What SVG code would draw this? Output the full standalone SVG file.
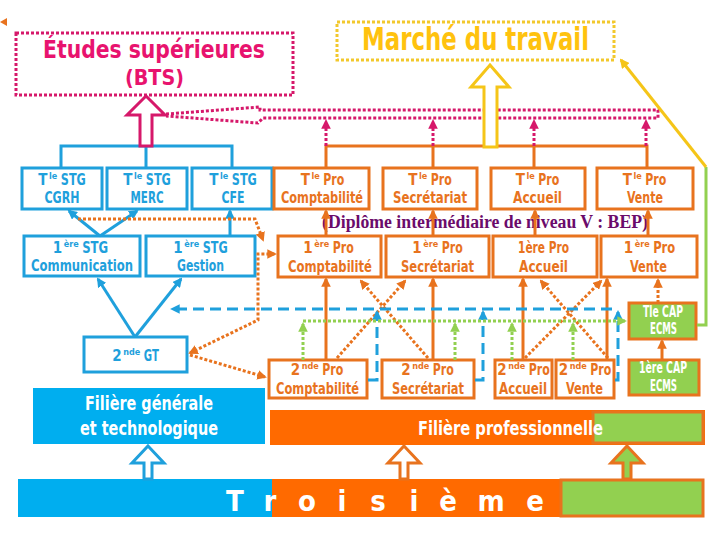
<svg xmlns="http://www.w3.org/2000/svg" width="720" height="540" viewBox="0 0 720 540">
<style>
.cn{font-family:"Liberation Sans Narrow","DejaVu Sans Condensed","Roboto Condensed",sans-serif;font-weight:bold;text-anchor:middle}
.cs{font-family:"Liberation Sans Narrow","DejaVu Sans Condensed","Roboto Condensed",sans-serif;font-weight:bold;text-anchor:start;font-size:15px}
.lp{font-size:16px}
.sp{font-size:9px}
.bt{fill:#1fa0dc;font-size:16px}
.ot{fill:#e8731e;font-size:16px}
.wt{fill:#ffffff}
.bbox{fill:#ffffff;stroke:#1fa0dc;stroke-width:3}
.obox{fill:#ffffff;stroke:#e8731e;stroke-width:3}
.gbox{fill:#92d050;stroke:#e8731e;stroke-width:3}
.bl{fill:none;stroke:#1fa0dc;stroke-width:3}
.ol{fill:none;stroke:#e8731e;stroke-width:3}
.od{fill:none;stroke:#e8731e;stroke-width:3;stroke-dasharray:3 2}
.pd{fill:none;stroke:#d6186a;stroke-width:3;stroke-dasharray:3 2}
.gd{fill:none;stroke:#92d050;stroke-width:3;stroke-dasharray:3 2}
.bd{fill:none;stroke:#1fa0dc;stroke-width:3;stroke-dasharray:11 6}
</style>
<defs>
<marker id="mB" viewBox="0 0 10 10" refX="8" refY="5" markerWidth="3.2" markerHeight="3.2" orient="auto-start-reverse"><path d="M0,0L10,5L0,10z" fill="#1fa0dc"/></marker>
<marker id="mO" viewBox="0 0 10 10" refX="8" refY="5" markerWidth="3.2" markerHeight="3.2" orient="auto-start-reverse"><path d="M0,0L10,5L0,10z" fill="#e8731e"/></marker>
<marker id="mP" viewBox="0 0 10 10" refX="8" refY="5" markerWidth="3.2" markerHeight="3.2" orient="auto-start-reverse"><path d="M0,0L10,5L0,10z" fill="#d6186a"/></marker>
<marker id="mG" viewBox="0 0 10 10" refX="8" refY="5" markerWidth="3.2" markerHeight="3.2" orient="auto-start-reverse"><path d="M0,0L10,5L0,10z" fill="#92d050"/></marker>
<marker id="mY" viewBox="0 0 10 10" refX="8" refY="5" markerWidth="3.2" markerHeight="3.2" orient="auto-start-reverse"><path d="M0,0L10,5L0,10z" fill="#f5c518"/></marker>
</defs>
<rect width="720" height="540" fill="#ffffff"/>

<polygon points="0,22 7,18 7,26" fill="#e8731e"/>

<g id="etudes">
<rect x="16" y="33" width="277" height="62" fill="none" stroke="#d6186a" stroke-width="3" stroke-dasharray="3 2"/>
<text class="cn" x="154" y="58" font-size="25" fill="#e8136e" textLength="222" lengthAdjust="spacingAndGlyphs">Études supérieures</text>
<text class="cn" x="154.5" y="85" font-size="22" fill="#e8136e" textLength="59" lengthAdjust="spacingAndGlyphs">(BTS)</text>
</g>
<g id="marche">
<rect x="337" y="22" width="277" height="38" fill="none" stroke="#f2c82c" stroke-width="3" stroke-dasharray="3 2"/>
<text class="cn" x="475.5" y="50" font-size="32" fill="#ffc20e" textLength="227" lengthAdjust="spacingAndGlyphs">Marché du travail</text>
</g>

<g id="tle-stg-cgrh" fill="#1fa0dc"><rect class="bbox" x="22" y="168" width="80" height="41"/>
<text class="cs" x="38.3" y="185">T</text><text class="cs sp" x="49" y="179">le</text>
<text class="cs lp" x="60.8" y="185" textLength="25" lengthAdjust="spacingAndGlyphs">STG</text>
<text class="cn bt" x="62" y="203" textLength="35" lengthAdjust="spacingAndGlyphs">CGRH</text></g>
<g id="tle-stg-merc" fill="#1fa0dc"><rect class="bbox" x="107" y="168" width="80" height="41"/>
<text class="cs" x="123.3" y="185">T</text><text class="cs sp" x="134" y="179">le</text>
<text class="cs lp" x="145.8" y="185" textLength="25" lengthAdjust="spacingAndGlyphs">STG</text>
<text class="cn bt" x="147" y="203" textLength="33" lengthAdjust="spacingAndGlyphs">MERC</text></g>
<g id="tle-stg-cfe" fill="#1fa0dc"><rect class="bbox" x="192" y="168" width="80" height="41"/>
<text class="cs" x="209.3" y="185">T</text><text class="cs sp" x="220" y="179">le</text>
<text class="cs lp" x="231.8" y="185" textLength="25" lengthAdjust="spacingAndGlyphs">STG</text>
<text class="cn bt" x="233" y="203" textLength="23" lengthAdjust="spacingAndGlyphs">CFE</text></g>

<g id="1ere-stg-comm" fill="#1fa0dc"><rect class="bbox" x="24" y="236" width="116" height="40"/>
<text class="cs" x="52.8" y="253">1</text><text class="cs sp" x="63.7" y="247">ère</text>
<text class="cs lp" x="82.2" y="253" textLength="26" lengthAdjust="spacingAndGlyphs">STG</text>
<text class="cn bt" x="82" y="271" textLength="102" lengthAdjust="spacingAndGlyphs">Communication</text></g>
<g id="1ere-stg-gestion" fill="#1fa0dc"><rect class="bbox" x="146" y="236" width="109" height="40"/>
<text class="cs" x="173.3" y="253">1</text><text class="cs sp" x="184.2" y="247">ère</text>
<text class="cs lp" x="202.7" y="253" textLength="25" lengthAdjust="spacingAndGlyphs">STG</text>
<text class="cn bt" x="200.5" y="271" textLength="47" lengthAdjust="spacingAndGlyphs">Gestion</text></g>

<g id="2nde-gt" fill="#1fa0dc"><rect class="bbox" x="84" y="337" width="103" height="35"/>
<text class="cs" x="112.3" y="361">2</text><text class="cs sp" x="123.2" y="355">nde</text>
<text class="cs lp" x="143.8" y="361" textLength="15" lengthAdjust="spacingAndGlyphs">GT</text></g>

<g id="filiere-gt"><rect x="33" y="388" width="232" height="56" fill="#00aeef"/>
<text class="cn wt" x="149" y="410" font-size="20" textLength="128" lengthAdjust="spacingAndGlyphs">Filière générale</text>
<text class="cn wt" x="149" y="435" font-size="20" textLength="138" lengthAdjust="spacingAndGlyphs">et technologique</text></g>

<g id="tle-pro-compta" fill="#e8731e"><rect class="obox" x="274" y="168" width="95" height="41"/>
<text class="cs" x="300.8" y="185">T</text><text class="cs sp" x="311.5" y="179">le</text>
<text class="cs lp" x="323.3" y="185" textLength="21" lengthAdjust="spacingAndGlyphs">Pro</text>
<text class="cn ot" x="322" y="203" textLength="82" lengthAdjust="spacingAndGlyphs">Comptabilité</text></g>
<g id="tle-pro-secr" fill="#e8731e"><rect class="obox" x="383" y="168" width="94" height="41"/>
<text class="cs" x="408.3" y="185">T</text><text class="cs sp" x="419" y="179">le</text>
<text class="cs lp" x="430.8" y="185" textLength="21" lengthAdjust="spacingAndGlyphs">Pro</text>
<text class="cn ot" x="430" y="203" textLength="74" lengthAdjust="spacingAndGlyphs">Secrétariat</text></g>
<g id="tle-pro-accueil" fill="#e8731e"><rect class="obox" x="491" y="168" width="94" height="41"/>
<text class="cs" x="515.8" y="185">T</text><text class="cs sp" x="526.5" y="179">le</text>
<text class="cs lp" x="538.3" y="185" textLength="21" lengthAdjust="spacingAndGlyphs">Pro</text>
<text class="cn ot" x="537.5" y="203" textLength="49" lengthAdjust="spacingAndGlyphs">Accueil</text></g>
<g id="tle-pro-vente" fill="#e8731e"><rect class="obox" x="597" y="168" width="96" height="41"/>
<text class="cs" x="622.8" y="185">T</text><text class="cs sp" x="633.5" y="179">le</text>
<text class="cs lp" x="645.3" y="185" textLength="21" lengthAdjust="spacingAndGlyphs">Pro</text>
<text class="cn ot" x="645" y="203" textLength="36" lengthAdjust="spacingAndGlyphs">Vente</text></g>

<text id="bep" x="485" y="228" font-family="'Liberation Serif','Times New Roman',serif" font-weight="bold" font-size="18" fill="#6b0b6b" text-anchor="middle" textLength="326" lengthAdjust="spacingAndGlyphs">(Diplôme intermédiaire de niveau V : BEP)</text>

<g id="1ere-pro-compta" fill="#e8731e"><rect class="obox" x="278" y="236" width="103" height="41"/>
<text class="cs" x="303.3" y="253">1</text><text class="cs sp" x="314.2" y="247">ère</text>
<text class="cs lp" x="332.7" y="253" textLength="21" lengthAdjust="spacingAndGlyphs">Pro</text>
<text class="cn ot" x="330" y="272" textLength="84" lengthAdjust="spacingAndGlyphs">Comptabilité</text></g>
<g id="1ere-pro-secr" fill="#e8731e"><rect class="obox" x="386" y="236" width="103" height="41"/>
<text class="cs" x="412.3" y="253">1</text><text class="cs sp" x="423.2" y="247">ère</text>
<text class="cs lp" x="441.7" y="253" textLength="21" lengthAdjust="spacingAndGlyphs">Pro</text>
<text class="cn ot" x="437.5" y="272" textLength="73" lengthAdjust="spacingAndGlyphs">Secrétariat</text></g>
<g id="1ere-pro-accueil"><rect class="obox" x="493" y="236" width="104" height="41"/>
<text class="cn ot" x="543.5" y="253" textLength="51" lengthAdjust="spacingAndGlyphs">1ère Pro</text>
<text class="cn ot" x="543.5" y="272" textLength="49" lengthAdjust="spacingAndGlyphs">Accueil</text></g>
<g id="1ere-pro-vente" fill="#e8731e"><rect class="obox" x="601" y="236" width="96" height="41"/>
<text class="cs" x="623.8" y="253">1</text><text class="cs sp" x="634.7" y="247">ère</text>
<text class="cs lp" x="653.2" y="253" textLength="22" lengthAdjust="spacingAndGlyphs">Pro</text>
<text class="cn ot" x="648.5" y="272" textLength="37" lengthAdjust="spacingAndGlyphs">Vente</text></g>

<g id="2nde-pro-compta" fill="#e8731e"><rect class="obox" x="269" y="360" width="98" height="38"/>
<text class="cs" x="290.8" y="375">2</text><text class="cs sp" x="301.7" y="369">nde</text>
<text class="cs lp" x="322.3" y="375" textLength="21" lengthAdjust="spacingAndGlyphs">Pro</text>
<text class="cn ot" x="317.5" y="394" textLength="83" lengthAdjust="spacingAndGlyphs">Comptabilité</text></g>
<g id="2nde-pro-secr" fill="#e8731e"><rect class="obox" x="382" y="360" width="92" height="38"/>
<text class="cs" x="401.3" y="375">2</text><text class="cs sp" x="412.2" y="369">nde</text>
<text class="cs lp" x="432.8" y="375" textLength="21" lengthAdjust="spacingAndGlyphs">Pro</text>
<text class="cn ot" x="428" y="394" textLength="72" lengthAdjust="spacingAndGlyphs">Secrétariat</text></g>
<g id="2nde-pro-accueil" fill="#e8731e"><rect class="obox" x="495" y="360" width="57" height="38"/>
<text class="cs" x="497.3" y="375">2</text><text class="cs sp" x="508.2" y="369">nde</text>
<text class="cs lp" x="528.8" y="375" textLength="21" lengthAdjust="spacingAndGlyphs">Pro</text>
<text class="cn ot" x="523" y="394" textLength="48" lengthAdjust="spacingAndGlyphs">Accueil</text></g>
<g id="2nde-pro-vente" fill="#e8731e"><rect class="obox" x="556" y="360" width="58" height="38"/>
<text class="cs" x="558.8" y="375">2</text><text class="cs sp" x="569.7" y="369">nde</text>
<text class="cs lp" x="590.3" y="375" textLength="21" lengthAdjust="spacingAndGlyphs">Pro</text>
<text class="cn ot" x="584.5" y="394" textLength="37" lengthAdjust="spacingAndGlyphs">Vente</text></g>

<g id="tle-cap"><rect class="gbox" x="629" y="303" width="67" height="36"/>
<text class="cn wt" x="663" y="317" font-size="15" textLength="40" lengthAdjust="spacingAndGlyphs">Tle CAP</text>
<text class="cn wt" x="663.5" y="334" font-size="15" textLength="27" lengthAdjust="spacingAndGlyphs">ECMS</text></g>
<g id="1ere-cap"><rect class="gbox" x="629" y="360" width="70" height="35"/>
<text class="cn wt" x="663" y="373" font-size="15" textLength="48" lengthAdjust="spacingAndGlyphs">1ère CAP</text>
<text class="cn wt" x="663.5" y="391" font-size="15" textLength="27" lengthAdjust="spacingAndGlyphs">ECMS</text></g>

<g id="filiere-pro">
<rect x="270" y="410" width="435" height="35" fill="#ff6a00"/>
<rect x="593" y="412" width="110" height="31" fill="#92d050" stroke="#e8731e" stroke-width="3"/>
<text class="cn wt" x="510.5" y="435" font-size="20" textLength="185" lengthAdjust="spacingAndGlyphs">Filière professionnelle</text>
</g>

<g id="troisieme">
<rect x="18" y="479" width="255" height="38" fill="#00aeef"/>
<rect x="272" y="479" width="289" height="38" fill="#ff6a00"/>
<rect x="561" y="480" width="142" height="36" fill="#92d050" stroke="#e8731e" stroke-width="3"/>
<text class="cn wt" x="235 270 307 342 378 414 448 491 535" y="511" font-size="29">Troisième</text>
</g>

<g id="connectors">
<path class="bl" d="M61,168V146H232V168M146,146V168"/>
<path class="bl" d="M100,236L69,211" marker-end="url(#mB)"/>
<path class="bl" d="M100,236L137,211" marker-end="url(#mB)"/>
<path class="bl" d="M230,236V211" marker-end="url(#mB)"/>
<path class="bl" d="M135,337L98,279" marker-end="url(#mB)"/>
<path class="bl" d="M135,337L181,279" marker-end="url(#mB)"/>
<path class="ol" d="M326,168V146H647V168M433,146V168M534,146V168"/>
<path class="ol" d="M326,236V211" marker-end="url(#mO)"/>
<path class="ol" d="M433,236V211" marker-end="url(#mO)"/>
<path class="ol" d="M535,236V211" marker-end="url(#mO)"/>
<path class="ol" d="M648,236V211" marker-end="url(#mO)"/>
<path class="ol" d="M326,360V279" marker-end="url(#mO)"/>
<path class="ol" d="M433,360V279" marker-end="url(#mO)"/>
<path class="ol" d="M523,360V279" marker-end="url(#mO)"/>
<path class="ol" d="M607,360V279" marker-end="url(#mO)"/>
<path class="od" d="M337,358L405,281" marker-end="url(#mO)"/>
<path class="od" d="M428,358L361,281" marker-end="url(#mO)"/>
<path class="od" d="M525,358L601,281" marker-end="url(#mO)"/>
<path class="od" d="M608,358L541,281" marker-end="url(#mO)"/>
<path class="ol" d="M662,360V341" marker-end="url(#mO)"/>
<path class="od" d="M658,303V280" marker-end="url(#mO)"/>
<path class="od" d="M78,219H255L263,240" marker-end="url(#mO)"/>
<path class="od" d="M190,353L258,320V254H275" marker-start="url(#mO)" marker-end="url(#mO)"/>
<path class="od" d="M190,355L265,377" marker-end="url(#mO)"/>
<path class="pd" d="M166,114L260,107V110H658V118H263L258,123L166,116"/>
<path class="pd" d="M326,146V121" marker-end="url(#mP)"/>
<path class="pd" d="M433,146V121" marker-end="url(#mP)"/>
<path class="pd" d="M534,146V121" marker-end="url(#mP)"/>
<path class="pd" d="M646,146V121" marker-end="url(#mP)"/>
<polygon points="146,96 165,115 152,115 152,146 140,146 140,115 127,115" fill="#ffffff" stroke="#d6186a" stroke-width="3"/>
<polygon points="490,65 509,87 497,87 497,147 484,147 484,87 471,87" fill="#ffffff" stroke="#f5c518" stroke-width="3"/>
<polygon points="148,446 164,463 152,463 152,479 144,479 144,463 132,463" fill="#ffffff" stroke="#1fa0dc" stroke-width="3"/>
<polygon points="404,446 420,463 408,463 408,479 400,479 400,463 388,463" fill="#ffffff" stroke="#e8731e" stroke-width="3"/>
<polygon points="627,446 643,463 631,463 631,479 623,479 623,463 611,463" fill="#92d050" stroke="#e8731e" stroke-width="3"/>
<path d="M697,325H706V167" fill="none" stroke="#92d050" stroke-width="3"/>
<path d="M706,167L621,60" fill="none" stroke="#f5c518" stroke-width="3" marker-end="url(#mY)"/>
<path class="bd" d="M612,309H172" marker-end="url(#mB)"/>
<path class="bd" d="M368,380H377V312" marker-end="url(#mB)"/>
<path class="bd" d="M475,380H483V312" marker-end="url(#mB)"/>
<path class="bd" d="M615,380H618V312" marker-end="url(#mB)"/>
<path class="gd" d="M303,321H625" marker-end="url(#mG)"/>
<path class="gd" d="M303,360V324" marker-end="url(#mG)"/>
<path class="gd" d="M455,360V324" marker-end="url(#mG)"/>
<path class="gd" d="M512,360V324" marker-end="url(#mG)"/>
<path class="gd" d="M573,360V324" marker-end="url(#mG)"/>
</g>
</svg>
